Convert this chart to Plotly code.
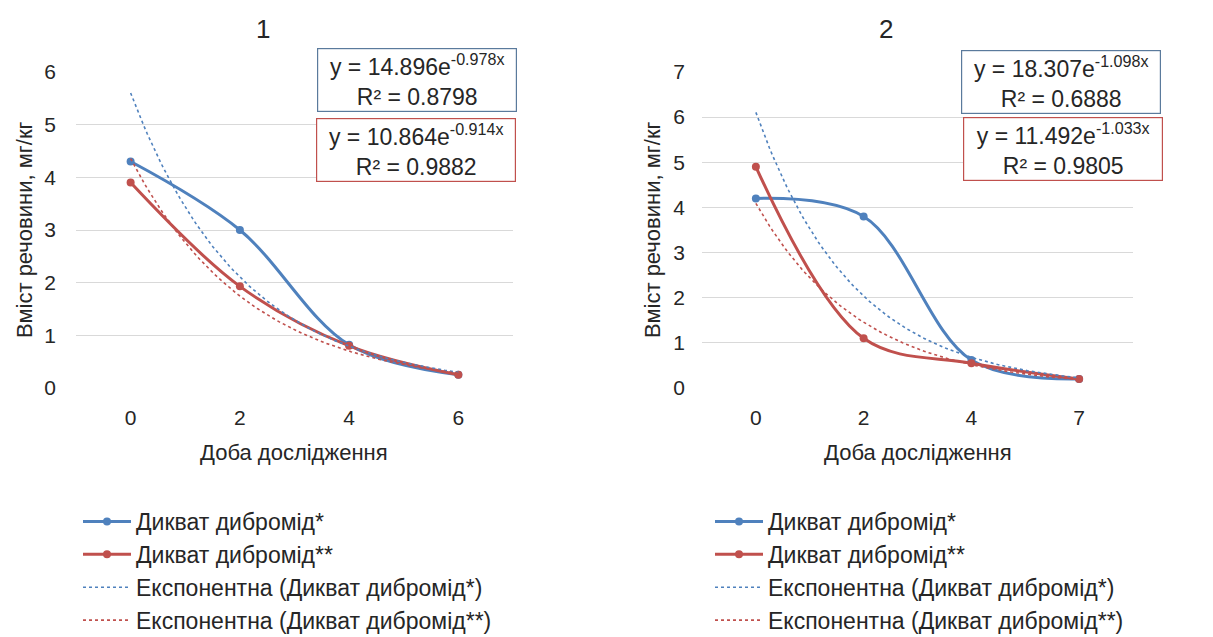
import numpy as np
import plotly.graph_objects as go

# Study days (category labels) for each panel
days_1 = ["0", "2", "4", "6"]
days_2 = ["0", "2", "4", "7"]

# Measured content, mg/kg
diquat_a_1 = [4.3, 3.0, 0.82, 0.25]
diquat_b_1 = [3.9, 1.93, 0.8, 0.25]
diquat_a_2 = [4.2, 3.8, 0.62, 0.2]
diquat_b_2 = [4.9, 1.1, 0.55, 0.2]

# Exponential trend coefficients y = a * exp(b * n), n = 1..N (point index), and R²
trend_a_1 = [14.896, -0.978, 0.8798]
trend_b_1 = [10.864, -0.914, 0.9882]
trend_a_2 = [18.307, -1.098, 0.6888]
trend_b_2 = [11.492, -1.033, 0.9805]

names = ["Дикват дибромід*", "Дикват дибромід**",
         "Експонентна (Дикват дибромід*)", "Експонентна (Дикват дибромід**)"]

BLUE = "#4F81BD"
RED = "#C0504D"
FONT = "Liberation Sans, Arial, sans-serif"
TXT = "#262626"

W, H = 1213, 637


def px_x(p):
    return p / W


def px_y(p):
    return 1 - p / H


fig = go.Figure()


def add_panel(idx, days, sa, sb, ta, tb, legend):
    xa = "x" if idx == 1 else "x2"
    ya = "y" if idx == 1 else "y2"
    pos = list(range(len(days)))
    for vals, col, nm in ((sa, BLUE, names[0]), (sb, RED, names[1])):
        fig.add_trace(go.Scatter(
            x=pos, y=vals, mode="lines+markers", name=nm,
            line=dict(color=col, width=3, shape="spline", smoothing=1.0),
            marker=dict(color=col, size=8),
            xaxis=xa, yaxis=ya, legend=legend))
    t = np.linspace(0, len(days) - 1, 120)
    for coef, col, nm in ((ta, BLUE, names[2]), (tb, RED, names[3])):
        fig.add_trace(go.Scatter(
            x=t, y=coef[0] * np.exp(coef[1] * (t + 1)), mode="lines", name=nm,
            line=dict(color=col, width=1.6, dash="dot"),
            xaxis=xa, yaxis=ya, legend=legend))


add_panel(1, days_1, diquat_a_1, diquat_b_1, trend_a_1, trend_b_1, "legend")
add_panel(2, days_2, diquat_a_2, diquat_b_2, trend_a_2, trend_b_2, "legend2")

axis_common = dict(showline=False, zeroline=False, ticks="",
                   tickfont=dict(family=FONT, size=21, color=TXT))

legend_common = dict(xanchor="left", yanchor="top",
                     font=dict(family=FONT, size=23, color=TXT),
                     itemwidth=48, traceorder="normal",
                     bgcolor="rgba(0,0,0,0)")

fig.update_layout(
    width=W, height=H,
    margin=dict(l=0, r=0, t=0, b=0, autoexpand=False),
    paper_bgcolor="white", plot_bgcolor="white",
    font=dict(family=FONT, color=TXT),
    showlegend=True,
    xaxis=dict(domain=[px_x(76), px_x(513)], range=[-0.5, 3.5],
               tickvals=[0, 1, 2, 3], ticktext=days_1, showgrid=False,
               ticklabelstandoff=15, anchor="y", automargin=False, **axis_common),
    yaxis=dict(domain=[px_y(388), px_y(72)], range=[0, 6], dtick=1,
               showgrid=True, gridcolor="#D9D9D9", gridwidth=1,
               ticklabelstandoff=19, anchor="x", automargin=False, **axis_common),
    xaxis2=dict(domain=[px_x(702), px_x(1133)], range=[-0.5, 3.5],
                tickvals=[0, 1, 2, 3], ticktext=days_2, showgrid=False,
                ticklabelstandoff=15, anchor="y2", automargin=False, **axis_common),
    yaxis2=dict(domain=[px_y(388), px_y(72)], range=[0, 7], dtick=1,
                showgrid=True, gridcolor="#D9D9D9", gridwidth=1,
                ticklabelstandoff=16, anchor="x2", automargin=False, **axis_common),
    legend=dict(x=px_x(78), y=px_y(500), **legend_common),
    legend2=dict(x=px_x(710), y=px_y(500), **legend_common),
)

ann = []


def label(text, xc, yc, size, angle=0):
    ann.append(dict(text=text, x=px_x(xc), y=px_y(yc), xref="paper", yref="paper",
                    xanchor="center", yanchor="middle", showarrow=False,
                    textangle=angle, font=dict(family=FONT, size=size, color=TXT)))


# Panel titles
label("1", 263, 29, 26)
label("2", 886, 29, 26)
# Axis titles
label("Вміст речовини, мг/кг", 25, 230, 22, -90)
label("Вміст речовини, мг/кг", 653, 230, 22, -90)
label("Доба дослідження", 294, 452, 22)
label("Доба дослідження", 918, 452, 22)


def eq_text(c):
    return (f"y = {c[0]:.3f}e<sup>{c[1]:.3f}x</sup><br>"
            f"R² = {c[2]:.4f}")


# Equation boxes: (coefficients, centre x, centre y, border colour)
boxes = [
    (trend_a_1, 417, 80, "#5A7A9C"),
    (trend_b_1, 416, 150, "#C0504D"),
    (trend_a_2, 1061, 82, "#5A7A9C"),
    (trend_b_2, 1063, 149, "#C0504D"),
]
for coef, xc, yc, bc in boxes:
    ann.append(dict(text=eq_text(coef), x=px_x(xc), y=px_y(yc),
                    xref="paper", yref="paper", xanchor="center", yanchor="middle",
                    showarrow=False, align="center", valign="middle",
                    width=196, height=60,
                    bordercolor=bc, borderwidth=1.2, borderpad=1, bgcolor="white",
                    font=dict(family=FONT, size=23, color=TXT)))

fig.update_layout(annotations=ann)

fig.write_html("out.html")
